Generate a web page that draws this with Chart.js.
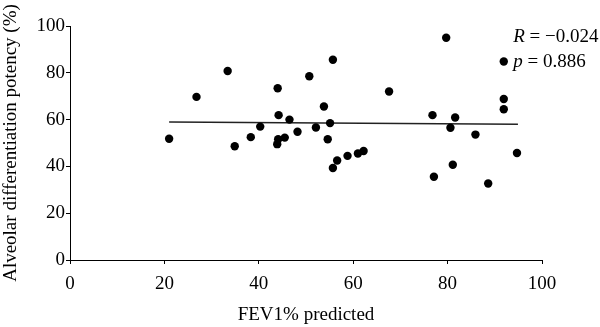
<!DOCTYPE html>
<html>
<head>
<meta charset="utf-8">
<script src="https://cdn.jsdelivr.net/npm/chart.js@4.4.1/dist/chart.umd.min.js"></script>
<style>
html,body{margin:0;padding:0;background:#fff;}
#wrap{width:600px;height:327px;position:relative;}
</style>
</head>
<body>
<div id="wrap"><canvas id="c" width="600" height="327"></canvas></div>
<script>
// Data
const fev1 = [21.0, 26.8, 33.4, 34.9, 38.3, 40.3, 43.9, 44.0, 44.1, 44.2, 45.5, 46.5, 48.2, 50.7, 52.1, 53.8, 54.6, 55.1, 55.7, 55.7, 56.6, 58.8, 61.0, 62.2, 67.6, 76.8, 77.1, 79.7, 80.6, 81.1, 81.6, 85.9, 88.6, 91.9, 91.9, 91.9, 94.7];
const potency = [51.8, 69.7, 80.8, 48.6, 52.5, 57.0, 49.5, 73.4, 51.6, 61.9, 52.3, 60.0, 54.8, 78.5, 56.6, 65.6, 51.6, 58.5, 85.6, 39.3, 42.5, 44.5, 45.5, 46.6, 72.0, 61.9, 35.6, 95.0, 56.5, 40.7, 60.9, 53.6, 32.7, 84.8, 68.8, 64.4, 45.7];
const fitX = [21.0, 94.9];
const fitY = [59.0, 58.0];
const xTicks = [0, 20, 40, 60, 80, 100];
const yTicks = [0, 20, 40, 60, 80, 100];
const statR = "\u22120.024";
const statP = "0.886";
const statPos = {x: 93.9, yR: 95.4, yP: 84.8};

const FONT = "'Liberation Serif', 'Times New Roman', serif";

const annot = {
  id: 'annot',
  afterDraw(chart) {
    const ctx = chart.ctx;
    const xs = chart.scales.x, ys = chart.scales.y;
    const x0 = xs.getPixelForValue(statPos.x);
    ctx.save();
    ctx.fillStyle = '#000';
    ctx.textBaseline = 'middle';
    ctx.textAlign = 'left';
    const lines = [['R', ' = ' + statR, statPos.yR], ['p', ' = ' + statP, statPos.yP]];
    for (const [v, rest, yv] of lines) {
      const y = ys.getPixelForValue(yv);
      ctx.font = 'italic 19px ' + FONT;
      ctx.fillText(v, x0, y);
      const w = ctx.measureText(v).width;
      ctx.font = '19px ' + FONT;
      ctx.fillText(rest, x0 + w, y);
    }
    ctx.restore();
  }
};

new Chart(document.getElementById('c'), {
  type: 'scatter',
  data: {
    datasets: [
      {
        type: 'scatter',
        data: fev1.map((x, i) => ({x: x, y: potency[i]})),
        backgroundColor: '#000',
        borderColor: '#000',
        pointRadius: 4.2,
        pointHoverRadius: 4.2,
        borderWidth: 0,
        order: 1
      },
      {
        type: 'line',
        data: fitX.map((x, i) => ({x: x, y: fitY[i]})),
        borderColor: '#222',
        borderWidth: 1.5,
        pointRadius: 0,
        fill: false,
        showLine: true,
        order: 2
      }
    ]
  },
  options: {
    responsive: false,
    animation: false,
    events: [],
    layout: {padding: {left: 0, top: 26, right: 58, bottom: 0}},
    plugins: {legend: {display: false}, tooltip: {enabled: false}},
    scales: {
      x: {
        type: 'linear',
        min: 0, max: 100,
        afterBuildTicks(s) { s.ticks = xTicks.map(v => ({value: v})); },
        afterFit(s) { s.height = 67; },
        grid: {drawOnChartArea: false, drawTicks: true, tickLength: 4, color: '#000'},
        border: {color: '#000', width: 1},
        ticks: {color: '#000', font: {family: FONT, size: 19}, padding: 9, maxRotation: 0},
        title: {display: true, text: 'FEV1% predicted', color: '#000', font: {family: FONT, size: 19}, padding: {top: 6, bottom: 1}}
      },
      y: {
        type: 'linear',
        min: 0, max: 100,
        afterBuildTicks(s) { s.ticks = yTicks.map(v => ({value: v})); },
        afterFit(s) { s.width = 70; },
        grid: {drawOnChartArea: false, drawTicks: true, tickLength: 4, color: '#000'},
        border: {color: '#000', width: 1},
        ticks: {color: '#000', font: {family: FONT, size: 19}, padding: 1},
        title: {display: true, text: 'Alveolar differentiation potency (%)', color: '#000', font: {family: FONT, size: 19}, padding: {top: 0, bottom: 0}}
      }
    }
  },
  plugins: [annot]
});
</script>
</body>
</html>
